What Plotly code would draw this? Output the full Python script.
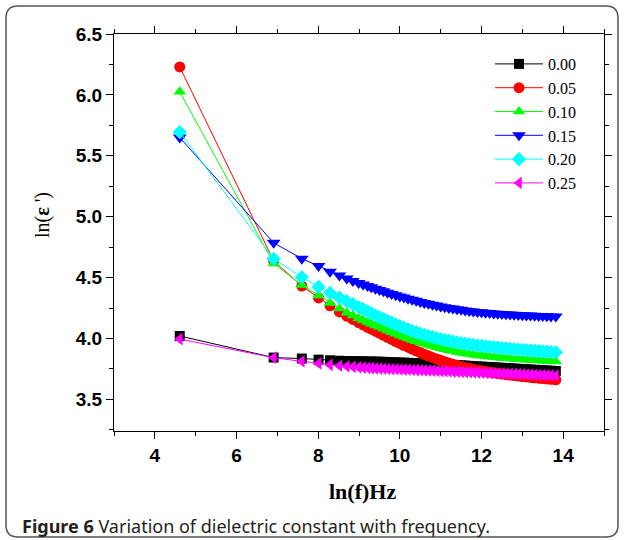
import plotly.graph_objects as go

# ln(f) positions of the measured points
ln_f = [4.61, 6.91, 7.60, 8.01, 8.29, 8.52, 8.70, 8.85, 8.99, 9.10, 9.21,
        9.3, 9.4, 9.5, 9.6, 9.7, 9.8, 9.9, 10.0, 10.1, 10.2, 10.3, 10.4, 10.5,
        10.6, 10.7, 10.8, 10.9, 11.0, 11.1, 11.2, 11.3, 11.4, 11.5, 11.6, 11.7,
        11.8, 11.9, 12.0, 12.1, 12.2, 12.3, 12.4, 12.5, 12.6, 12.7, 12.8, 12.9,
        13.0, 13.1, 13.2, 13.3, 13.4, 13.5, 13.6, 13.7, 13.82]

series_names = ["0.00", "0.05", "0.10", "0.15", "0.20", "0.25"]

y_000 = [4.020, 3.843, 3.835, 3.826, 3.821, 3.817, 3.815, 3.814, 3.813, 3.812, 3.811,
         3.810, 3.810, 3.809, 3.808, 3.806, 3.805, 3.804, 3.802, 3.801, 3.800, 3.798,
         3.797, 3.796, 3.794, 3.793, 3.791, 3.790, 3.788, 3.787, 3.785, 3.783, 3.781,
         3.779, 3.777, 3.775, 3.773, 3.771, 3.769, 3.767, 3.765, 3.763, 3.761, 3.759,
         3.757, 3.755, 3.753, 3.751, 3.749, 3.747, 3.745, 3.743, 3.741, 3.739, 3.737,
         3.735, 3.733]

y_005 = [6.230, 4.637, 4.430, 4.333, 4.268, 4.218, 4.183, 4.156, 4.131, 4.111, 4.092,
         4.076, 4.060, 4.043, 4.026, 4.009, 3.992, 3.975, 3.959, 3.943, 3.928, 3.913,
         3.898, 3.884, 3.870, 3.857, 3.844, 3.832, 3.820, 3.809, 3.798, 3.788, 3.779,
         3.770, 3.762, 3.755, 3.748, 3.741, 3.735, 3.729, 3.723, 3.718, 3.713, 3.708,
         3.703, 3.699, 3.695, 3.691, 3.687, 3.684, 3.680, 3.677, 3.674, 3.671, 3.668,
         3.664, 3.660]

y_010 = [6.026, 4.616, 4.438, 4.353, 4.292, 4.246, 4.212, 4.188, 4.166, 4.150, 4.134,
         4.121, 4.107, 4.093, 4.079, 4.065, 4.051, 4.038, 4.025, 4.012, 4.000, 3.988,
         3.977, 3.966, 3.956, 3.946, 3.937, 3.928, 3.919, 3.911, 3.903, 3.896, 3.889,
         3.883, 3.877, 3.872, 3.867, 3.862, 3.858, 3.854, 3.850, 3.847, 3.843, 3.840,
         3.837, 3.835, 3.832, 3.830, 3.828, 3.825, 3.823, 3.821, 3.819, 3.817, 3.815,
         3.813, 3.811]

y_015 = [5.650, 4.785, 4.655, 4.595, 4.548, 4.517, 4.492, 4.472, 4.455, 4.442, 4.430,
         4.420, 4.409, 4.398, 4.387, 4.376, 4.365, 4.355, 4.345, 4.336, 4.327, 4.318,
         4.309, 4.300, 4.292, 4.284, 4.277, 4.270, 4.263, 4.257, 4.251, 4.245, 4.240,
         4.235, 4.230, 4.226, 4.222, 4.218, 4.215, 4.211, 4.208, 4.205, 4.203, 4.200,
         4.198, 4.196, 4.194, 4.192, 4.190, 4.189, 4.188, 4.186, 4.185, 4.184, 4.183,
         4.181, 4.180]

y_020 = [5.695, 4.654, 4.503, 4.424, 4.374, 4.336, 4.306, 4.281, 4.258, 4.240, 4.222,
         4.207, 4.191, 4.175, 4.160, 4.145, 4.130, 4.115, 4.101, 4.088, 4.075, 4.063,
         4.051, 4.040, 4.030, 4.020, 4.011, 4.003, 3.995, 3.988, 3.981, 3.974, 3.968,
         3.962, 3.957, 3.952, 3.947, 3.943, 3.939, 3.935, 3.931, 3.928, 3.924, 3.921,
         3.918, 3.915, 3.912, 3.909, 3.906, 3.904, 3.901, 3.899, 3.896, 3.894, 3.892,
         3.889, 3.886]

y_025 = [3.995, 3.842, 3.812, 3.795, 3.783, 3.776, 3.771, 3.767, 3.763, 3.760, 3.758,
         3.756, 3.754, 3.752, 3.751, 3.749, 3.748, 3.747, 3.745, 3.744, 3.743, 3.741,
         3.740, 3.739, 3.737, 3.736, 3.735, 3.733, 3.732, 3.731, 3.729, 3.728, 3.727,
         3.725, 3.724, 3.723, 3.721, 3.720, 3.719, 3.717, 3.716, 3.715, 3.713, 3.712,
         3.711, 3.709, 3.708, 3.707, 3.705, 3.704, 3.703, 3.701, 3.700, 3.699, 3.697,
         3.696, 3.694]

series_values = [y_000, y_005, y_010, y_015, y_020, y_025]
colors = ["#000000", "#ff0000", "#00ff00", "#0000ff", "#00ffff", "#ff00ff"]
symbols = ["square", "circle", "triangle-up", "triangle-down", "diamond", "triangle-left"]
sizes = [10, 11, 11, 12, 11, 11]

W, H = 624, 540
L, R, T, B = 114, 604, 34, 431

fig = go.Figure()
for name, vals, c, s, sz in zip(series_names, series_values, colors, symbols, sizes):
    fig.add_trace(go.Scatter(
        x=ln_f, y=vals, name=name, mode="lines+markers",
        line=dict(color=c, width=1),
        marker=dict(symbol=s, size=sz, color=c, line=dict(width=0)),
    ))

def px(x):
    return (x - L) / (R - L)

def py(y):
    return (B - y) / (B - T)

# rounded frame around the whole figure
x0, y0, x1, y1, r = 6, 6, 618, 537, 12
path = (f"M {px(x0 + r)},{py(y0)} L {px(x1 - r)},{py(y0)} "
        f"Q {px(x1)},{py(y0)} {px(x1)},{py(y0 + r)} "
        f"L {px(x1)},{py(y1 - r)} Q {px(x1)},{py(y1)} {px(x1 - r)},{py(y1)} "
        f"L {px(x0 + r)},{py(y1)} Q {px(x0)},{py(y1)} {px(x0)},{py(y1 - r)} "
        f"L {px(x0)},{py(y0 + r)} Q {px(x0)},{py(y0)} {px(x0 + r)},{py(y0)} Z")

tickfont = dict(family="Liberation Sans", size=19, color="black", weight="bold")

fig.update_layout(
    width=W, height=H,
    margin=dict(l=L, r=W - R, t=T, b=H - B),
    paper_bgcolor="white", plot_bgcolor="white",
    showlegend=True,
    legend=dict(x=px(490), y=py(47), xanchor="left", yanchor="top",
                font=dict(family="Liberation Serif", size=16, color="black"),
                bgcolor="rgba(0,0,0,0)", itemwidth=48, tracegroupgap=0),
    xaxis=dict(range=[3, 15], dtick=2, tick0=0, ticks="outside", ticklen=7,
               tickwidth=1, tickcolor="black", showline=True, linecolor="black",
               linewidth=1, mirror="ticks", showgrid=False, zeroline=False,
               tickfont=tickfont,
               minor=dict(dtick=1, ticks="outside", ticklen=4, tickcolor="black")),
    yaxis=dict(range=[3.24, 6.5], dtick=0.5, tick0=0, ticks="outside", ticklen=7,
               tickwidth=1, tickcolor="black", showline=True, linecolor="black",
               linewidth=1, mirror="ticks", showgrid=False, zeroline=False,
               tickformat=".1f", tickfont=tickfont,
               minor=dict(dtick=0.25, ticks="outside", ticklen=4, tickcolor="black")),
    shapes=[dict(type="path", xref="paper", yref="paper", path=path,
                 line=dict(color="#555555", width=1.5), layer="above")],
    annotations=[
        dict(text="<b>ln(f)Hz</b>", x=px(362), y=py(491), xref="paper", yref="paper",
             showarrow=False, xanchor="center", yanchor="middle",
             font=dict(family="Liberation Serif", size=22, color="black")),
        dict(text="ln(<b>ε</b> ')", x=px(43), y=py(215), xref="paper", yref="paper",
             showarrow=False, xanchor="center", yanchor="middle", textangle=-90,
             font=dict(family="Liberation Serif", size=20, color="black")),
        dict(text="<b>Figure 6</b> Variation of dielectric constant with frequency.",
             x=px(20), y=py(526), xref="paper", yref="paper",
             showarrow=False, xanchor="left", yanchor="middle",
             font=dict(family="Noto Sans", size=18, color="#231f20")),
    ],
)

fig.write_html("out.html", config={"displayModeBar": False},
               post_script="document.body.style.margin='0';")
